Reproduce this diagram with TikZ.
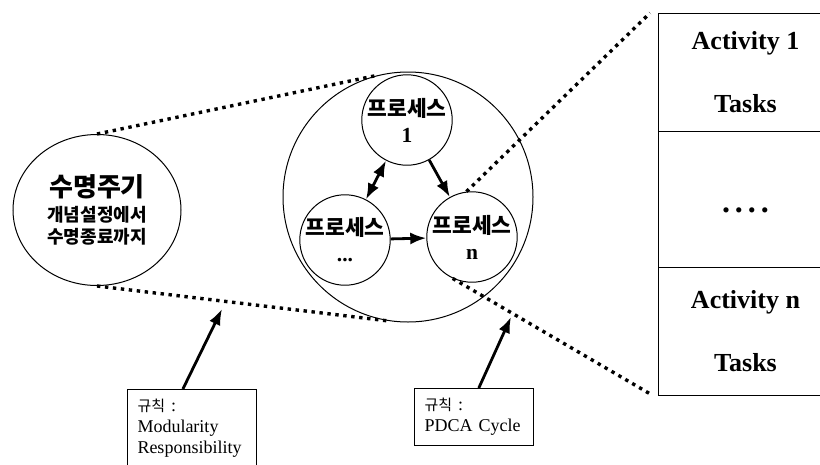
\documentclass[tikz,border=0pt]{standalone}
\usepackage{fontspec}
\setmainfont{Liberation Serif}
\newfontfamily\kr{Noto Sans CJK KR}
\usetikzlibrary{shapes.geometric,positioning,calc,arrows.meta}

\begin{document}
\begin{tikzpicture}[
  x=1pt,y=-1pt,
  outline/.style={draw,line width=1pt},
  proc/.style={outline,circle,minimum size=89pt,inner sep=0pt,align=center,font=\kr\bfseries\fontsize{21.5}{26}\selectfont},
  flow/.style={-{Latex[length=16pt,width=12pt]},line width=2.8pt},
  twoway/.style={{Latex[length=16pt,width=12pt]}-{Latex[length=16pt,width=12pt]},line width=2.8pt},
  zoomline/.style={line width=3.4pt,dash pattern=on 3.4pt off 4.6pt},
  cell/.style={outline,rectangle,minimum width=175pt,inner sep=0pt,outer sep=0pt,align=center,font=\bfseries\fontsize{26}{63}\selectfont},
  rulebox/.style={outline,rectangle,anchor=north west,inner sep=10pt,align=left,font=\fontsize{18}{21}\selectfont}
]
  \useasboundingbox (0,0) rectangle (820,464);
  \clip (0,0) rectangle (820,464);

  \node[outline,ellipse,minimum width=168pt,minimum height=151pt,inner sep=0pt,align=center,font=\kr\bfseries\fontsize{18}{22}\selectfont] (life) at (97,210)
    {{\fontsize{26}{30}\selectfont 수명주기}\\[3pt]개념설정에서\\수명종료까지};

  \node[outline,circle,minimum size=250pt] (system) at (408,197) {};
  \node[proc] (proc1) at (407,120) {프로세스\\{\rmfamily 1}};
  \node[proc] (procdots) at (345,240) {프로세스\\{\rmfamily ...}};
  \node[proc] (procn) at (472,237) {프로세스\\{\rmfamily n}};

  \draw[twoway] (procdots) -- (proc1);
  \draw[flow] (proc1) -- (procn);
  \draw[flow] (procdots) -- (procn);

  \node[cell,anchor=north west,minimum height=118pt] (act1) at (658,13) {Activity 1\\Tasks};
  \node[cell,minimum height=136pt,text height=0pt,text depth=0pt,below=0pt of act1] (actdots) {\raisebox{-13pt}{\fontsize{32}{36}\selectfont .\kern5pt.\kern5pt.\kern5pt.}};
  \node[cell,minimum height=128pt,below=0pt of actdots] (actn) {Activity n\\Tasks};

  \draw[zoomline] (life.north) -- (system.104);
  \draw[zoomline] (life.south) -- (system.261);
  \draw[zoomline] (procn.97) -- ([xshift=-8pt]act1.north west);
  \draw[zoomline] (procn.245) -- ([xshift=-6pt]actn.south west);

  \node[rulebox,text width=109pt] (rule1) at (127,389) {{\kr\fontsize{15}{21}\selectfont 규칙} :\\Modularity\\Responsibility};
  \node[rulebox,text width=99pt] (rule2) at (414,388) {{\kr\fontsize{15}{21}\selectfont 규칙} :\\PDCA Cycle};

  \coordinate (aim1) at (222,309);
  \coordinate (aim2) at (511,317);
  \draw[flow] ($(rule1.north west)!0.43!(rule1.north east)$) -- (aim1);
  \draw[flow] ($(rule2.north west)!0.54!(rule2.north east)$) -- (aim2);
\end{tikzpicture}
\end{document}
